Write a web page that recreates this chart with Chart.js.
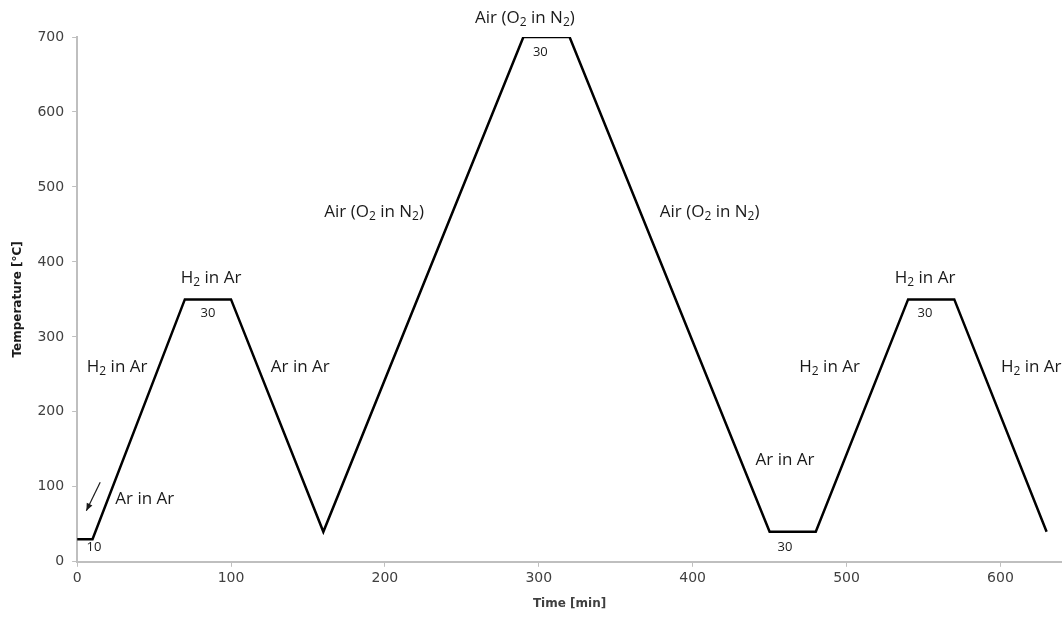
<!DOCTYPE html>
<html>
<head>
<meta charset="utf-8">
<script src="https://cdn.jsdelivr.net/npm/chart.js@4"></script>
<style>
  body { margin: 0; background: #fff; }
  #wrap { width: 1062px; height: 617px; }
</style>
</head>
<body>
<div id="wrap"><canvas id="perfil"></canvas></div>
<script>
// perfil de temperatura: tiempo [min] y temperatura [°C]
const tiempos = [0, 10, 70, 100, 160, 290, 320, 450, 480, 540, 570, 630];
const temperaturas = [30, 30, 350, 350, 40, 700, 700, 40, 40, 350, 350, 40];
const ticksX = [0, 100, 200, 300, 400, 500, 600];
const ticksY = [0, 100, 200, 300, 400, 500, 600, 700];

// etiquetas de gas ("_" = siguiente caracter en subindice)
const etiquetas = [
  { t: "H_2 in Ar", x: 26, y: 260 },
  { t: "Ar in Ar", x: 44, y: 83 },
  { t: "H_2 in Ar", x: 87, y: 378 },
  { t: "Ar in Ar", x: 145, y: 260 },
  { t: "Air (O_2 in N_2)", x: 193, y: 466 },
  { t: "Air (O_2 in N_2)", x: 291, y: 725 },
  { t: "Air (O_2 in N_2)", x: 411, y: 466 },
  { t: "Ar in Ar", x: 460, y: 136 },
  { t: "H_2 in Ar", x: 489, y: 260 },
  { t: "H_2 in Ar", x: 551, y: 378 },
  { t: "H_2 in Ar", x: 620, y: 260 }
];
// duraciones de las mesetas
const duraciones = [
  { t: "10", x: 11, y: 20 },
  { t: "30", x: 85, y: 332 },
  { t: "30", x: 301, y: 680 },
  { t: "30", x: 460, y: 19 },
  { t: "30", x: 551, y: 332 }
];

function textoConSub(ctx, txt, cx, cy, size) {
  const partes = [];
  for (let i = 0; i < txt.length; i++) {
    if (txt[i] === "_") { partes.push({ s: txt[i + 1], sub: true }); i++; }
    else partes.push({ s: txt[i], sub: false });
  }
  const fNormal = size + "px 'Open Sans'";
  const fSub = Math.round(size * 0.68) + "px 'Open Sans'";
  let ancho = 0;
  partes.forEach(p => { ctx.font = p.sub ? fSub : fNormal; p.w = ctx.measureText(p.s).width; ancho += p.w; });
  let x = cx - ancho / 2;
  ctx.textAlign = "left";
  ctx.textBaseline = "middle";
  partes.forEach(p => {
    ctx.font = p.sub ? fSub : fNormal;
    ctx.fillText(p.s, x, p.sub ? cy + size * 0.25 : cy);
    x += p.w;
  });
}

const notas = {
  id: "notas",
  afterDatasetsDraw(chart) {
    const ctx = chart.ctx;
    const sx = chart.scales.x, sy = chart.scales.y;
    ctx.save();
    ctx.fillStyle = "#1a1a1a";
    etiquetas.forEach(e => textoConSub(ctx, e.t, sx.getPixelForValue(e.x), sy.getPixelForValue(e.y), 17));
    ctx.font = "13px 'Open Sans'";
    ctx.textAlign = "center";
    ctx.textBaseline = "middle";
    duraciones.forEach(d => ctx.fillText(d.t, sx.getPixelForValue(d.x), sy.getPixelForValue(d.y)));
    // flecha
    const x1 = sx.getPixelForValue(15), y1 = sy.getPixelForValue(106);
    const x2 = sx.getPixelForValue(6), y2 = sy.getPixelForValue(68);
    ctx.strokeStyle = "#1a1a1a";
    ctx.lineWidth = 1.2;
    ctx.beginPath(); ctx.moveTo(x1, y1); ctx.lineTo(x2, y2); ctx.stroke();
    const ang = Math.atan2(y2 - y1, x2 - x1);
    ctx.beginPath();
    ctx.moveTo(x2, y2);
    ctx.lineTo(x2 - 8 * Math.cos(ang - 0.4), y2 - 8 * Math.sin(ang - 0.4));
    ctx.lineTo(x2 - 8 * Math.cos(ang + 0.4), y2 - 8 * Math.sin(ang + 0.4));
    ctx.closePath(); ctx.fill();
    ctx.restore();
  }
};

new Chart(document.getElementById("perfil"), {
  type: "line",
  data: {
    datasets: [{
      data: tiempos.map((t, i) => ({ x: t, y: temperaturas[i] })),
      borderColor: "#000",
      borderWidth: 2.5,
      pointRadius: 0,
      tension: 0
    }]
  },
  options: {
    responsive: true,
    maintainAspectRatio: false,
    animation: false,
    layout: { padding: { top: 37, right: 0, left: 7, bottom: 2 } },
    scales: {
      x: {
        type: "linear",
        min: 0,
        max: 640,
        afterBuildTicks: s => { s.ticks = ticksX.map(v => ({ value: v })); },
        grid: { drawOnChartArea: false, color: "#bfbfbf", tickLength: 5 },
        border: { color: "#bfbfbf", width: 2 },
        ticks: { color: "#404040", font: { family: "DejaVu Sans", size: 14 }, padding: 3 },
        title: { display: true, text: "Time [min]", color: "#404040", font: { family: "DejaVu Sans", size: 12, weight: "bold" }, padding: { top: 7 } }
      },
      y: {
        min: 0,
        max: 700,
        afterBuildTicks: s => { s.ticks = ticksY.map(v => ({ value: v })); },
        grid: { drawOnChartArea: false, color: "#bfbfbf", tickLength: 5 },
        border: { color: "#bfbfbf", width: 2 },
        ticks: { color: "#404040", font: { family: "DejaVu Sans", size: 14 }, padding: 8 },
        title: { display: true, text: "Temperature [°C]", color: "#1a1a1a", font: { family: "DejaVu Sans", size: 12, weight: "bold" }, padding: { bottom: 4 } }
      }
    },
    plugins: {
      legend: { display: false },
      tooltip: { enabled: false }
    }
  },
  plugins: [notas]
});
</script>
</body>
</html>
